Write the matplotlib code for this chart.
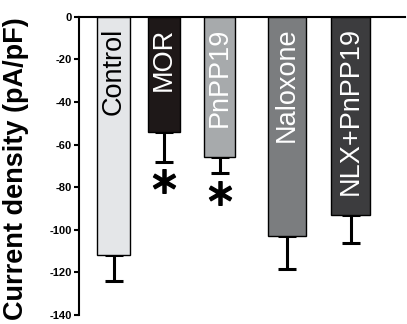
import matplotlib
matplotlib.use("Agg")
import matplotlib.pyplot as plt

plt.rcParams['font.family'] = ['Liberation Sans', 'DejaVu Sans']

categories = ["Control", "MOR", "PnPP19", "Naloxone", "NLX+PnPP19"]
values = [-112, -54, -66, -103, -93]
errors = [12, 14, 7.5, 15.5, 13]
significant = [False, True, True, False, False]
yticks = [0, -20, -40, -60, -80, -100, -120, -140]

# layout (not data)
positions = [0.7, 1.7, 2.82, 4.16, 5.44]
widths = [0.66, 0.64, 0.62, 0.76, 0.78]
colors = ["#e4e6e8", "#1e1818", "#a7aaac", "#7b7d7f", "#3c3c3e"]
text_colors = ["black", "white", "white", "white", "white"]

fig = plt.figure(figsize=(4.07, 3.24), dpi=100)
ax = fig.add_axes([0.194, 0.028, 0.801, 0.92])

ax.bar(positions, values, width=widths, color=colors, edgecolor="black",
       linewidth=1.0, zorder=2)
lower = errors
upper = [0] * len(errors)
ax.errorbar(positions, values, yerr=[lower, upper], fmt="none",
            ecolor="black", elinewidth=2.2, capsize=6.5, capthick=2.2, zorder=1)

for x, v, e, s in zip(positions, values, errors, significant):
    if s:
        ax.plot([x], [v - e - 9], marker=r"$\ast$", markersize=17,
                color="black", linestyle="none")

for x, name, tc in zip(positions, categories, text_colors):
    ax.text(x, -5, name, rotation=90, ha="center", va="top",
            fontsize=19.5, color=tc, zorder=3)

ax.set_xlim(0, 6.52)
ax.set_ylim(-140, 0)
ax.set_yticks(yticks)
ax.set_yticklabels([str(t) for t in yticks], fontweight="bold", fontsize=8)
ax.set_xticks([])
ax.tick_params(axis="y", direction="out", length=3.5, width=1.5, pad=1.5)
ax.spines["right"].set_visible(False)
ax.spines["bottom"].set_visible(False)
ax.spines["left"].set_linewidth(1.5)
ax.spines["top"].set_linewidth(1.5)
ax.set_ylabel("Current density (pA/pF)", fontsize=19.5, fontweight="bold")
ax.yaxis.set_label_coords(-0.153, 0.49)

fig.savefig("out.png", dpi=100)
